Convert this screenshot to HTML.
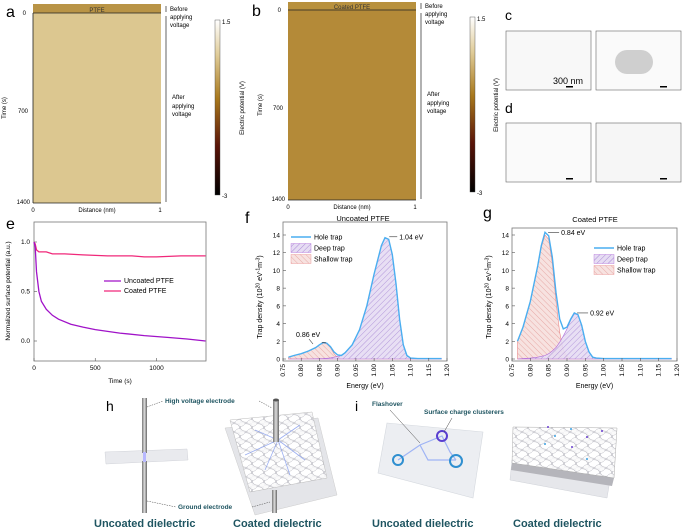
<!DOCTYPE html>
<html><head><meta charset="utf-8"><style>
body{margin:0;background:#fff}
svg{display:block;font-family:"Liberation Sans",sans-serif}
</style></head><body>
<svg id="fig" width="685" height="531" viewBox="0 0 685 531" xmlns="http://www.w3.org/2000/svg">
<defs>
<linearGradient id="cb" x1="0" y1="0" x2="0" y2="1">
<stop offset="0" stop-color="#ffffff"/><stop offset="0.2" stop-color="#e0cc98"/><stop offset="0.45" stop-color="#a8781c"/><stop offset="0.72" stop-color="#5a1408"/><stop offset="1" stop-color="#000"/></linearGradient>
<pattern id="hatchP" width="4" height="4" patternUnits="userSpaceOnUse" patternTransform="rotate(45)"><rect width="4" height="4" fill="#e6dcf3"/><line x1="0" y1="0" x2="0" y2="4" stroke="#a98bd6" stroke-width="1"/></pattern>
<pattern id="hatchR" width="4" height="4" patternUnits="userSpaceOnUse" patternTransform="rotate(-45)"><rect width="4" height="4" fill="#f7e2e0"/><line x1="0" y1="0" x2="0" y2="4" stroke="#e7a9a6" stroke-width="1"/></pattern>
<linearGradient id="rod" x1="0" x2="1"><stop offset="0" stop-color="#777"/><stop offset="0.5" stop-color="#ddd"/><stop offset="1" stop-color="#666"/></linearGradient>
<radialGradient id="peb"><stop offset="0" stop-color="#fff"/><stop offset="1" stop-color="#d8d8dc"/></radialGradient>
<pattern id="pebbles" width="12" height="9" patternUnits="userSpaceOnUse"><rect width="12" height="9" fill="#f4f4f6"/><ellipse cx="6" cy="4.5" rx="5.5" ry="3.8" fill="#fff" stroke="#b9b9c0" stroke-width="0.6"/><ellipse cx="0" cy="0" rx="5" ry="3.5" fill="#fafafa" stroke="#c4c4cc" stroke-width="0.5"/><ellipse cx="12" cy="9" rx="5" ry="3.5" fill="#fafafa" stroke="#c4c4cc" stroke-width="0.5"/></pattern>
</defs>

<!-- Panel a -->
<g>
<text x="6" y="17" font-size="16">a</text>
<rect x="33" y="4" width="128" height="9" fill="#b99446"/>
<rect x="33" y="13" width="128" height="190" fill="#dcc790"/>
<line x1="33" y1="13" x2="161" y2="13" stroke="#222" stroke-width="0.8"/>
<line x1="33" y1="203" x2="161" y2="203" stroke="#222" stroke-width="0.8"/>
<line x1="33" y1="13" x2="33" y2="203" stroke="#222" stroke-width="0.8"/>
<text x="97" y="12" font-size="6" text-anchor="middle" fill="#333">PTFE</text>
<text x="26" y="15" font-size="6" text-anchor="end">0</text>
<text x="28" y="113" font-size="6" text-anchor="end">700</text>
<text x="30" y="204" font-size="6" text-anchor="end">1400</text>
<text x="6" y="108" font-size="6" transform="rotate(-90 6 108)" text-anchor="middle">Time (s)</text>
<text x="33" y="212" font-size="6" text-anchor="middle">0</text>
<text x="160" y="212" font-size="6" text-anchor="middle">1</text>
<text x="97" y="212" font-size="6" text-anchor="middle">Distance (nm)</text>
<line x1="166" y1="6" x2="166" y2="12" stroke="#222" stroke-width="0.7"/>
<line x1="166" y1="16" x2="166" y2="202" stroke="#222" stroke-width="0.7"/>
<text x="170" y="11" font-size="6">Before</text><text x="170" y="19" font-size="6">applying</text><text x="170" y="27" font-size="6">voltage</text>
<text x="172" y="99" font-size="6">After</text><text x="172" y="108" font-size="6">applying</text><text x="172" y="116" font-size="6">voltage</text>
<rect x="215" y="20" width="5" height="175" fill="url(#cb)" stroke="#444" stroke-width="0.4"/>
<text x="222" y="24" font-size="6">1.5</text><text x="222" y="198" font-size="6">-3</text>
<text x="244" y="108" font-size="6" transform="rotate(-90 244 108)" text-anchor="middle">Electric potential (V)</text>
</g>

<!-- Panel b -->
<g>
<text x="252" y="16" font-size="16">b</text>
<rect x="288" y="2" width="128" height="8" fill="#b8913e"/>
<rect x="288" y="10" width="128" height="190" fill="#b48a38"/>
<line x1="288" y1="10" x2="416" y2="10" stroke="#222" stroke-width="0.8"/>
<line x1="288" y1="200" x2="416" y2="200" stroke="#222" stroke-width="0.8"/>
<text x="352" y="9" font-size="6" text-anchor="middle" fill="#333">Coated PTFE</text>
<text x="281" y="12" font-size="6" text-anchor="end">0</text>
<text x="283" y="110" font-size="6" text-anchor="end">700</text>
<text x="285" y="201" font-size="6" text-anchor="end">1400</text>
<text x="262" y="105" font-size="6" transform="rotate(-90 262 105)" text-anchor="middle">Time (s)</text>
<text x="288" y="209" font-size="6" text-anchor="middle">0</text>
<text x="415" y="209" font-size="6" text-anchor="middle">1</text>
<text x="352" y="209" font-size="6" text-anchor="middle">Distance (nm)</text>
<line x1="421" y1="3" x2="421" y2="9" stroke="#222" stroke-width="0.7"/>
<line x1="421" y1="13" x2="421" y2="199" stroke="#222" stroke-width="0.7"/>
<text x="425" y="8" font-size="6">Before</text><text x="425" y="16" font-size="6">applying</text><text x="425" y="24" font-size="6">voltage</text>
<text x="427" y="96" font-size="6">After</text><text x="427" y="105" font-size="6">applying</text><text x="427" y="113" font-size="6">voltage</text>
<rect x="470" y="17" width="5" height="175" fill="url(#cb)" stroke="#444" stroke-width="0.4"/>
<text x="477" y="21" font-size="6">1.5</text><text x="477" y="195" font-size="6">-3</text>
<text x="498" y="105" font-size="6" transform="rotate(-90 498 105)" text-anchor="middle">Electric potential (V)</text>
</g>

<!-- Panel c, d -->
<g>
<text x="505" y="20" font-size="14">c</text>
<rect x="506" y="31" width="85" height="59" fill="#f8f8f8" stroke="#666" stroke-width="0.6"/>
<rect x="596" y="31" width="85" height="59" fill="#fafafa" stroke="#666" stroke-width="0.6"/>
<rect x="615" y="50" width="38" height="24" rx="12" fill="#cfcfcf"/>
<text x="553" y="84" font-size="9">300 nm</text>
<rect x="566" y="86" width="7" height="1.5" fill="#000"/><rect x="660" y="86" width="7" height="1.5" fill="#000"/>
<text x="505" y="113" font-size="14">d</text>
<rect x="506" y="123" width="85" height="59" fill="#fafafa" stroke="#666" stroke-width="0.6"/>
<rect x="596" y="123" width="85" height="59" fill="#f6f6f6" stroke="#666" stroke-width="0.6"/>
<rect x="566" y="178" width="7" height="1.5" fill="#000"/><rect x="660" y="178" width="7" height="1.5" fill="#000"/>
</g>

<g id="pe"><text x="6" y="229" font-size="16">e</text></g>
<g id="pf"><text x="245" y="223" font-size="16">f</text>
<text x="363" y="221" font-size="7.5" text-anchor="middle">Uncoated PTFE</text></g>
<g id="pg"><text x="483" y="218" font-size="16">g</text>
<text x="595" y="222" font-size="7.5" text-anchor="middle">Coated PTFE</text></g>

<!-- Panel h -->
<g>
<text x="106" y="411" font-size="14">h</text>
<polygon points="105,452 187,449 188,460 106,464" fill="#e9eaee" stroke="#d0d2d8" stroke-width="0.5"/>
<rect x="142" y="398" width="5" height="55" fill="url(#rod)"/>
<rect x="142" y="461" width="5" height="52" fill="url(#rod)"/>
<rect x="143" y="452" width="3" height="10" fill="#b8b8ff"/>
<polygon points="225,428 318,418 337,495 255,515" fill="#e4e5e9" stroke="#ccc" stroke-width="0.5"/>
<polygon points="230,420 312,412 327,478 250,492" fill="url(#pebbles)" stroke="#bbb" stroke-width="0.5"/>
<g fill="none" stroke="#8aa0ee" stroke-width="0.8" opacity="0.85"><path d="M278,440 L255,430 M278,440 L300,425 M278,440 L265,470 M278,440 L305,460 M278,440 L245,455 M278,440 L290,475"/></g>
<rect x="273" y="400" width="6" height="42" fill="url(#rod)"/>
<ellipse cx="276" cy="400" rx="3" ry="1.5" fill="#555"/>
<rect x="272" y="490" width="5" height="23" fill="url(#rod)"/>
<text x="165" y="403" font-size="6.5" font-weight="bold" fill="#1f5561">High voltage electrode</text>
<path d="M147,407 L163,401 M259,401 L272,408" stroke="#444" stroke-width="0.5" stroke-dasharray="1.5,1" fill="none"/>
<text x="178" y="509" font-size="6.5" font-weight="bold" fill="#1f5561">Ground electrode</text>
<path d="M147,501 L176,507 M252,507 L270,502" stroke="#444" stroke-width="0.5" stroke-dasharray="1.5,1" fill="none"/>
<text x="94" y="527" font-size="11" font-weight="bold" fill="#1f5561">Uncoated dielectric</text>
<text x="233" y="527" font-size="11" font-weight="bold" fill="#1f5561">Coated dielectric</text>
</g>

<!-- Panel i -->
<g>
<text x="355" y="411" font-size="14">i</text>
<polygon points="387,423 483,432 473,498 378,473" fill="#eceef2" stroke="#d4d8de" stroke-width="0.6"/>
<path d="M398,460 L420,445 L442,436 L450,452 L456,460 M420,445 L428,460 L456,460" stroke="#9fb4f5" stroke-width="1.2" fill="none"/>
<circle cx="398" cy="460" r="5" fill="none" stroke="#2f8fd0" stroke-width="2"/>
<circle cx="442" cy="436" r="5" fill="none" stroke="#5a3fd0" stroke-width="2"/>
<circle cx="456" cy="461" r="6" fill="none" stroke="#2f8fd0" stroke-width="2"/>
<text x="372" y="406" font-size="6.5" font-weight="bold" fill="#1f5561">Flashover</text>
<text x="424" y="414" font-size="6.5" font-weight="bold" fill="#1f5561">Surface charge clusterers</text>
<path d="M390,410 L420,443 M452,418 L444,432" stroke="#444" stroke-width="0.5" fill="none"/>
<polygon points="512,460 612,468 607,498 510,480" fill="#e6e7eb" stroke="#cfd2d8" stroke-width="0.5"/>
<polygon points="512,463 614,478 612,486 511,470" fill="#b5b5bb"/>
<polygon points="513,427 617,428 614,478 512,463" fill="url(#pebbles)" stroke="#aaa" stroke-width="0.5"/>
<g fill="#3a9fe0"><circle cx="571" cy="429" r="1"/><circle cx="555" cy="436" r="1"/><circle cx="545" cy="444" r="1"/><circle cx="587" cy="459" r="1"/></g>
<g fill="#6a3fd0"><circle cx="548" cy="427" r="1"/><circle cx="602" cy="431" r="1"/><circle cx="587" cy="437" r="1"/><circle cx="572" cy="447" r="1"/></g>
<text x="372" y="527" font-size="11" font-weight="bold" fill="#1f5561">Uncoated dielectric</text>
<text x="513" y="527" font-size="11" font-weight="bold" fill="#1f5561">Coated dielectric</text>
</g>
</svg>
<script>
// Panel e data
const eTimes=[0,10,20,40,60,100,150,200,300,400,500,700,900,1100,1250,1400];
const eUncoated=[1.0,0.95,0.7,0.5,0.4,0.32,0.26,0.22,0.17,0.14,0.115,0.08,0.055,0.035,0.02,0.0];
const eCoatedTimes=[0,10,20,40,100,150,250,400,600,800,900,1000,1200,1400];
const eCoated=[1.0,0.98,0.92,0.9,0.9,0.88,0.88,0.87,0.86,0.86,0.85,0.85,0.86,0.86];
const eXTicks=[0,500,1000];
const eYTicks=[0.0,0.5,1.0];
// Panel f data
const fEnergy=[0.765,0.78,0.80,0.82,0.84,0.85,0.86,0.87,0.88,0.89,0.90,0.91,0.92,0.94,0.96,0.98,1.00,1.02,1.03,1.04,1.05,1.06,1.07,1.08,1.09,1.10,1.12,1.15,1.185];
const fHole=[0.2,0.4,0.6,0.9,1.3,1.6,1.85,1.8,1.4,0.8,0.45,0.4,0.7,1.6,3.3,6,9.6,12.8,13.7,13.5,11.8,8.5,4.5,1.6,0.4,0.1,0.05,0.05,0.05];
const fDeep=[0,0,0,0,0.02,0.03,0.05,0.08,0.12,0.2,0.3,0.4,0.7,1.6,3.3,6,9.6,12.8,13.7,13.5,11.8,8.5,4.5,1.6,0.4,0.1,0.05,0.05,0.05];
const fShallow=[0.2,0.4,0.6,0.9,1.3,1.6,1.8,1.7,1.3,0.6,0.15,0.03,0,0,0,0,0,0,0,0,0,0,0,0,0,0,0,0,0];
// Panel g data
const gEnergy=[0.765,0.78,0.80,0.82,0.83,0.84,0.85,0.86,0.87,0.88,0.89,0.90,0.91,0.92,0.93,0.94,0.95,0.96,0.97,0.98,1.00,1.05,1.10,1.185];
const gHole=[2.0,3.6,6.5,10.5,12.8,14.3,13.9,11.5,7.5,4.5,3.4,3.6,4.5,5.2,5.0,3.8,2.0,0.8,0.2,0.1,0.05,0.05,0.05,0.05];
const gShallow=[2.0,3.6,6.5,10.5,12.6,14.0,13.5,10.8,6.5,3.0,1.0,0.3,0.05,0,0,0,0,0,0,0,0,0,0,0];
const gDeep=[0,0.05,0.1,0.2,0.3,0.4,0.6,0.9,1.3,1.9,2.6,3.4,4.4,5.1,5.0,3.8,2.0,0.8,0.2,0.1,0.05,0.05,0.05,0.05];
const trapXTicks=["0.75","0.80","0.85","0.90","0.95","1.00","1.05","1.10","1.15","1.20"];
const trapYTicks=[0,2,4,6,8,10,12,14];

const NS="http://www.w3.org/2000/svg";
function mk(parent,tag,attrs,text){const el=document.createElementNS(NS,tag);for(const k in attrs)el.setAttribute(k,attrs[k]);if(text!==undefined)el.textContent=text;parent.appendChild(el);return el;}
function pathD(xs,ys,sx,sy){return xs.map((x,i)=>(i?'L':'M')+sx(x).toFixed(1)+','+sy(ys[i]).toFixed(1)).join(' ');}

// Panel e
(function(){
const g=document.getElementById('pe');
const x0=34,x1=206,y0=222,y1=361;
const sx=t=>x0+(t/1400)*(x1-x0-0.5);
const sy=v=>341-(v)*(341-242);
const fr=mk(g,'rect',{x:x0,y:y0,width:x1-x0,height:y1-y0,fill:'none',stroke:'#777','stroke-width':0.8});


eXTicks.forEach(t=>{mk(g,'line',{x1:sx(t),x2:sx(t),y1:y1,y2:y1-3,stroke:'#555','stroke-width':0.6});const tl=mk(g,'text',{x:sx(t),y:y1+9,'font-size':6.5,'text-anchor':'middle'},String(t));});
eYTicks.forEach(v=>{mk(g,'line',{x1:x0,x2:x0+3,y1:sy(v),y2:sy(v),stroke:'#555','stroke-width':0.6});const tl=mk(g,'text',{x:x0-4,y:sy(v)+2,'font-size':6.5,'text-anchor':'end'},v.toFixed(1));});
const xt=mk(g,'text',{x:120,y:383,'font-size':6.5,'text-anchor':'middle'},'Time (s)');


const yt=mk(g,'text',{x:10,y:291,'font-size':6.5,'text-anchor':'middle',transform:'rotate(-90 10 291)'},'Normalized surface potential (a.u.)');


const pc=mk(g,'path',{d:pathD(eCoatedTimes,eCoated,sx,sy),fill:'none',stroke:'#f0287a','stroke-width':1.3});


const pu=mk(g,'path',{d:pathD(eTimes,eUncoated,sx,sy),fill:'none',stroke:'#a012c8','stroke-width':1.3});


mk(g,'line',{x1:104,x2:121,y1:281,y2:281,stroke:'#a012c8','stroke-width':1.3});
const l1=mk(g,'text',{x:124,y:283,'font-size':7},'Uncoated PTFE');


mk(g,'line',{x1:104,x2:121,y1:291,y2:291,stroke:'#f0287a','stroke-width':1.3});
const l2=mk(g,'text',{x:124,y:293,'font-size':7},'Coated PTFE');


})();

function trapPanel(id,x0,x1,yTop,E,hole,deep,shallow,anns,legX,legY){
const g=document.getElementById(id);
const y0=359,y14=235;
const sx=e=>x0+(e-0.75)/0.45*(x1-x0);
const sy=v=>y0-v/14*(y0-y14);
const fr=mk(g,'rect',{x:x0,y:yTop,width:x1-x0,height:y0-yTop+2,fill:'none',stroke:'#777','stroke-width':0.8});


const base=' L'+sx(E[E.length-1]).toFixed(1)+','+sy(0)+' L'+sx(E[0]).toFixed(1)+','+sy(0)+' Z';
const ds=mk(g,'path',{d:pathD(E,shallow,sx,sy)+base,fill:'url(#hatchR)',stroke:'#e98a8a','stroke-width':0.6});


const dd=mk(g,'path',{d:pathD(E,deep,sx,sy)+base,fill:'url(#hatchP)',stroke:'#b06ad8','stroke-width':0.6,'fill-opacity':0.9});


const hl=mk(g,'path',{d:pathD(E,hole,sx,sy),fill:'none',stroke:'#4aaef0','stroke-width':1.4});


trapXTicks.forEach(t=>{const x=sx(parseFloat(t));mk(g,'line',{x1:x,x2:x,y1:y0+2,y2:y0-1,stroke:'#555','stroke-width':0.6});const tl=mk(g,'text',{x:x+2,y:y0+5,'font-size':6.5,'text-anchor':'end',transform:'rotate(-90 '+(x+2)+' '+(y0+5)+')'},t);});
trapYTicks.forEach(v=>{mk(g,'line',{x1:x0,x2:x0+3,y1:sy(v),y2:sy(v),stroke:'#555','stroke-width':0.6});const tl=mk(g,'text',{x:x0-3,y:sy(v)+2.5,'font-size':6.5,'text-anchor':'end'},String(v));});
const xt=mk(g,'text',{x:(x0+x1)/2,y:388,'font-size':7,'text-anchor':'middle'},'Energy (eV)');


const yx=x0-21;
const yt=mk(g,'text',{x:yx,y:297,'font-size':7,'text-anchor':'middle',transform:'rotate(-90 '+yx+' 297)'});


yt.innerHTML='Trap density (10<tspan dy="-2.5" font-size="5">20</tspan><tspan dy="2.5"> eV</tspan><tspan dy="-2.5" font-size="5">-1</tspan><tspan dy="2.5">m</tspan><tspan dy="-2.5" font-size="5">-3</tspan><tspan dy="2.5">)</tspan>';
anns.forEach(a=>{const px=sx(a[0]),py=sy(a[1]);mk(g,'line',{x1:px+2,x2:px+a[2]-2,y1:py,y2:py,stroke:'#333','stroke-width':0.6});const at=mk(g,'text',{x:px+a[2],y:py+2.5,'font-size':7},a[3]);});
const items=[['line','#4aaef0','Hole trap'],['url(#hatchP)','#b06ad8','Deep trap'],['url(#hatchR)','#e98a8a','Shallow trap']];
items.forEach((it,i)=>{const y=legY+i*11;if(it[0]==='line')mk(g,'line',{x1:legX,x2:legX+20,y1:y,y2:y,stroke:it[1],'stroke-width':1.5});else mk(g,'rect',{x:legX,y:y-4.5,width:20,height:9,fill:it[0],stroke:it[1],'stroke-width':0.4});const lt=mk(g,'text',{x:legX+23,y:y+2.5,'font-size':7},it[2]);});
}
trapPanel('pf',283,447,222,fEnergy,fHole,fDeep,fShallow,[[1.036,13.8,12,'1.04 eV'],[0.862,1.85,0,'']],291,237);
(function(){const t=mk(document.getElementById('pf'),'text',{x:296,y:337,'font-size':7},'0.86 eV');mk(document.getElementById('pf'),'line',{x1:309,x2:313,y1:339,y2:344,stroke:'#333','stroke-width':0.6});})();
trapPanel('pg',512,677,228,gEnergy,gHole,gDeep,gShallow,[[0.843,14.3,15,'0.84 eV'],[0.922,5.2,15,'0.92 eV']],594,248);
</script>
</body></html>
